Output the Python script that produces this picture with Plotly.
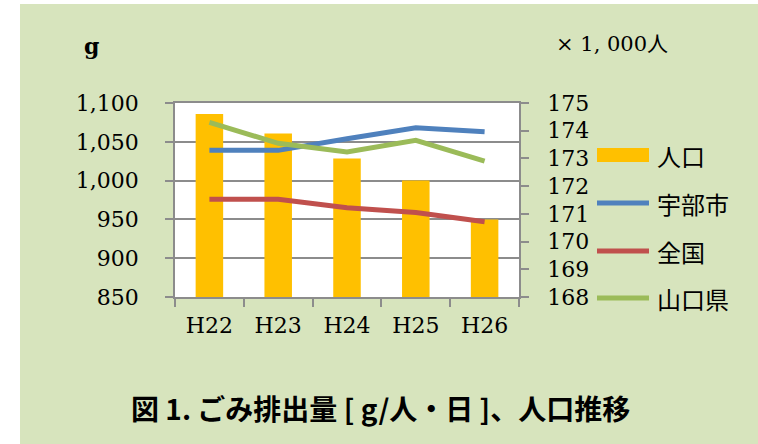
import plotly.graph_objects as go

categories = ["H22", "H23", "H24", "H25", "H26"]
population = [174.6, 173.9, 173.0, 172.2, 170.8]   # ×1,000人 (right axis)
ube = [1039, 1039, 1054, 1068, 1063]              # g/人・日 (left axis)
zenkoku = [976, 976, 965, 959, 947]
yamaguchi = [1075, 1048, 1037, 1052, 1025]

legend_labels = ["人口", "宇部市", "全国", "山口県"]
colors = ["#ffc000", "#4f81bd", "#c0504d", "#9bbb59"]

L, T, W, H = 175, 103, 344, 194
WIDTH, HEIGHT = 758, 444


def px2x(px):
    return (px - L) / W


def py2y(py):
    return 1 - (py - T) / H


GRID = "#8c8c8c"
SERIF = "DejaVu Serif"
CJK = "Noto Sans CJK JP"

fig = go.Figure()
fig.add_trace(go.Bar(x=categories, y=population, name=legend_labels[0],
                     marker=dict(color=colors[0], line=dict(width=0)),
                     width=0.4, yaxis="y"))
for vals, name, col in [(ube, legend_labels[1], colors[1]),
                        (zenkoku, legend_labels[2], colors[2]),
                        (yamaguchi, legend_labels[3], colors[3])]:
    fig.add_trace(go.Scatter(x=categories, y=vals, name=name, mode="lines",
                             line=dict(color=col, width=5), yaxis="y2"))

shapes = [
    dict(type="rect", xref="paper", yref="paper", x0=px2x(-5), x1=px2x(20),
         y0=py2y(450), y1=py2y(-5), fillcolor="white", line=dict(width=0), layer="below"),
    dict(type="rect", xref="paper", yref="paper", x0=px2x(-5), x1=px2x(765),
         y0=py2y(4), y1=py2y(-5), fillcolor="white", line=dict(width=0), layer="below"),
]
annotations = []

# manual legend
leg_y = [155, 203, 251, 298]
for i, (lab, col) in enumerate(zip(legend_labels, colors)):
    yy = py2y(leg_y[i])
    if i == 0:
        shapes.append(dict(type="rect", xref="paper", yref="paper",
                           x0=px2x(597), x1=px2x(649), y0=py2y(162), y1=py2y(148),
                           fillcolor=col, line=dict(width=0)))
    else:
        shapes.append(dict(type="line", xref="paper", yref="paper",
                           x0=px2x(597), x1=px2x(649), y0=yy, y1=yy,
                           line=dict(color=col, width=5)))
    annotations.append(dict(text=lab, xref="paper", yref="paper", x=px2x(655), y=yy,
                            xanchor="left", yanchor="middle", showarrow=False,
                            font=dict(family=CJK, size=24, color="black")))

annotations += [
    dict(text="<b>g</b>", xref="paper", yref="paper", x=px2x(91), y=py2y(46),
         xanchor="center", yanchor="middle", showarrow=False,
         font=dict(family=SERIF, size=22, color="black")),
    dict(text="× 1, 000人", xref="paper", yref="paper", x=px2x(554), y=py2y(44),
         xanchor="left", yanchor="middle", showarrow=False,
         font=dict(family=SERIF + ", " + CJK, size=21, color="black")),
    dict(text="<b>図 1. ごみ排出量 [ g/人・日 ]、人口推移</b>", xref="paper", yref="paper",
         x=px2x(380), y=py2y(408), xanchor="center", yanchor="middle", showarrow=False,
         font=dict(family=CJK, size=28, color="black")),
]

fig.update_layout(
    width=WIDTH, height=HEIGHT,
    margin=dict(l=L, r=WIDTH - L - W, t=T, b=HEIGHT - T - H, pad=0),
    paper_bgcolor="#d7e4bd", plot_bgcolor="white",
    showlegend=False,
    shapes=shapes, annotations=annotations,
    xaxis=dict(type="category", tickson="boundaries", ticks="outside", ticklen=8,
               tickwidth=1.5, tickcolor=GRID, showline=True, linecolor=GRID, linewidth=1.5,
               mirror=True, showgrid=False,
               tickfont=dict(family=SERIF, size=22, color="black"), ticklabelstandoff=8),
    yaxis=dict(range=[168, 175], dtick=1, side="right", showgrid=False, ticks="outside",
               ticklen=8, tickwidth=1.5, tickcolor=GRID, showline=True, linecolor=GRID,
               linewidth=1.5, zeroline=False,
               tickfont=dict(family=SERIF, size=22, color="black"), ticklabelstandoff=14),
    yaxis2=dict(range=[850, 1100], dtick=50, side="left", overlaying="y", showgrid=True,
                gridcolor=GRID, gridwidth=1.5, ticks="outside", ticklen=8, tickwidth=1.5,
                tickcolor=GRID, showline=True, linecolor=GRID, linewidth=1.5,
                zeroline=False, tickformat=",",
                tickfont=dict(family=SERIF, size=22, color="black"), ticklabelstandoff=22),
)

fig.write_html("out.html")
